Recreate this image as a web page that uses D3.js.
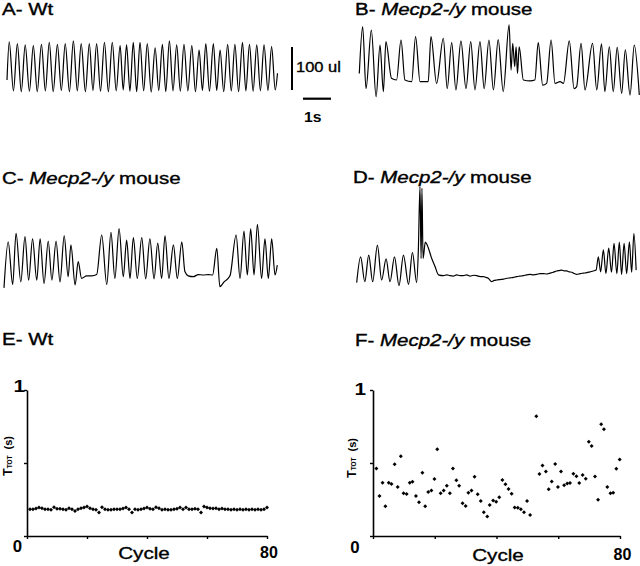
<!DOCTYPE html>
<html><head><meta charset="utf-8">
<script src="https://cdn.jsdelivr.net/npm/d3@7"></script>
<style>html,body{margin:0;padding:0;background:#fff;} svg{display:block;}</style>
</head><body><svg id="c" width="640" height="566"></svg>
<script>
// ---------- DATA ----------
// Breathing traces: [time (s), volume (ul)] vertices read from the plethysmograph records
const traceA = [[0.00,27],[0.08,116],[0.23,2],[0.37,112],[0.51,0],[0.65,109],[0.80,1],[0.94,107],[1.08,0],[1.23,110],[1.37,2],[1.51,115],[1.65,0],[1.80,110],[1.94,3],[2.08,112],[2.23,0],[2.37,118],[2.51,2],[2.65,112],[2.80,0],[2.94,112],[3.07,3],[3.20,112],[3.34,1],[3.48,115],[3.62,0],[3.76,115],[3.90,2],[4.04,107],[4.15,4],[4.27,109],[4.39,1],[4.51,115],[4.63,0],[4.75,115],[4.88,2],[5.01,112],[5.15,-1],[5.29,102],[5.42,3],[5.55,110],[5.67,0],[5.80,118],[5.93,2],[6.06,109],[6.19,1],[6.32,110],[6.46,2],[6.60,107],[6.73,0],[6.86,97],[6.98,3],[7.10,112],[7.23,1],[7.37,112],[7.49,3],[7.61,97],[7.74,0],[7.88,110],[8.01,2],[8.14,110],[8.27,0],[8.41,115],[8.53,2],[8.66,110],[8.79,1],[8.92,109],[9.05,2],[9.18,109],[9.32,3],[9.45,105],[9.58,4],[9.66,43]];
const traceB = [[0.00,19],[0.12,128],[0.24,-16],[0.43,120],[0.60,-35],[0.74,85],[0.86,-23],[0.95,93],[1.15,8],[1.33,4],[1.49,97],[1.63,4],[1.87,0],[2.01,105],[2.17,0],[2.46,0],[2.56,105],[2.76,-4],[3.00,101],[3.14,-16],[3.30,91],[3.45,-19],[3.63,95],[3.81,-16],[3.98,93],[4.13,-19],[4.31,93],[4.46,-16],[4.63,97],[4.79,-19],[4.96,98],[5.14,-23],[5.35,132],[5.42,27],[5.48,89],[5.55,35],[5.60,81],[5.65,19],[5.71,81],[5.86,4],[6.10,2],[6.27,4],[6.39,91],[6.55,-8],[6.69,-4],[6.85,97],[6.99,-4],[7.17,0],[7.29,-4],[7.50,95],[7.67,-16],[7.76,-12],[7.92,89],[8.06,-19],[8.33,89],[8.48,-19],[8.65,88],[8.77,-23],[8.93,81],[9.07,-23],[9.21,80],[9.37,-27],[9.50,74],[9.67,-31],[9.82,85],[10.00,-31]];
const traceC = [[0.00,-26],[0.15,81],[0.31,-18],[0.43,101],[0.60,-12],[0.75,93],[0.88,-8],[1.02,88],[1.17,-8],[1.29,88],[1.43,-16],[1.58,83],[1.71,-8],[1.86,83],[2.00,-12],[2.15,95],[2.29,0],[2.39,74],[2.54,-19],[2.65,35],[2.77,-4],[2.95,2],[3.13,2],[3.31,5],[3.49,97],[3.67,-18],[3.82,103],[3.96,-4],[4.11,112],[4.26,0],[4.38,85],[4.50,-4],[4.62,91],[4.76,-4],[4.92,91],[5.06,-5],[5.21,88],[5.36,-5],[5.49,78],[5.63,-4],[5.75,95],[5.89,-4],[6.05,74],[6.19,-4],[6.35,81],[6.46,12],[6.58,2],[6.76,0],[6.94,5],[7.12,4],[7.30,5],[7.45,4],[7.60,66],[7.71,-23],[7.86,-12],[8.07,2],[8.29,97],[8.43,-4],[8.57,106],[8.69,4],[8.81,111],[8.93,4],[9.05,122],[9.20,-4],[9.32,88],[9.44,-4],[9.56,88],[9.68,4],[9.76,27]];
const traceD = [[0.00,-16],[0.14,44],[0.29,-14],[0.43,48],[0.57,-14],[0.74,71],[0.89,-10],[1.05,39],[1.19,-14],[1.35,44],[1.51,-23],[1.67,48],[1.85,-20],[1.99,54],[2.14,-16],[2.20,56],[2.26,207],[2.30,40],[2.33,203],[2.37,40],[2.45,78],[2.52,71],[2.68,40],[2.80,21],[2.92,2],[3.10,0],[3.22,2],[3.33,0],[3.45,-1],[3.57,2],[3.69,0],[3.81,0],[3.93,2],[4.05,-1],[4.17,1],[4.29,0],[4.41,-2],[4.52,-2],[4.61,-4],[4.70,-6],[4.82,-14],[4.91,-11],[5.00,-10],[5.12,-9],[5.24,-8],[5.36,-6],[5.48,-5],[5.60,-4],[5.71,-2],[5.83,-1],[5.95,0],[6.07,2],[6.19,3],[6.31,2],[6.43,3],[6.55,5],[6.67,5],[6.78,4],[6.90,6],[7.02,8],[7.14,11],[7.23,12],[7.32,13],[7.41,11],[7.50,11],[7.59,9],[7.68,8],[7.77,5],[7.86,3],[7.98,5],[8.10,6],[8.22,7],[8.33,9],[8.45,11],[8.55,13],[8.63,44],[8.71,9],[8.81,60],[8.90,5],[9.00,64],[9.10,8],[9.19,75],[9.29,5],[9.38,78],[9.46,3],[9.55,75],[9.64,5],[9.74,79],[9.82,8],[9.90,98],[9.98,13]];

// TTOT (s) per respiratory cycle
const ttotWt = [0.183,0.183,0.188,0.195,0.190,0.183,0.183,0.179,0.197,0.186,0.186,0.183,0.179,0.190,0.183,0.172,0.183,0.190,0.195,0.202,0.190,0.183,0.179,0.161,0.197,0.183,0.179,0.179,0.183,0.183,0.183,0.188,0.195,0.183,0.161,0.183,0.179,0.183,0.188,0.195,0.186,0.183,0.197,0.190,0.179,0.183,0.179,0.179,0.183,0.186,0.195,0.183,0.195,0.183,0.183,0.186,0.183,0.161,0.202,0.195,0.190,0.188,0.190,0.183,0.188,0.183,0.183,0.179,0.183,0.179,0.183,0.179,0.183,0.179,0.183,0.179,0.183,0.179,0.183,0.195];
const cyclesWt = ttotWt.map((d, i) => i + 1);
const cyclesMecp2 = [1.1,2.1,3.1,4.0,5.1,6.0,7.0,8.0,9.0,9.9,10.9,11.9,12.8,13.9,14.9,16.0,16.9,17.9,18.9,19.9,20.8,21.9,22.9,23.9,24.9,25.9,27.0,27.9,29.0,30.0,30.9,31.9,32.9,33.9,34.9,35.9,37.0,37.8,38.9,39.9,40.9,41.9,42.9,43.9,44.9,45.9,46.9,47.9,48.9,49.9,50.9,52.9,53.9,54.9,56.0,56.9,57.9,59.0,59.9,60.9,61.9,62.9,63.8,64.9,65.9,66.8,67.9,68.9,69.9,70.8,71.9,72.9,73.9,74.8,75.9,76.9,77.8,78.8,79.9];
const ttotMecp2 = [0.463,0.274,0.365,0.204,0.365,0.356,0.492,0.336,0.546,0.293,0.288,0.365,0.372,0.274,0.231,0.433,0.204,0.302,0.311,0.390,0.594,0.293,0.311,0.345,0.293,0.463,0.381,0.345,0.224,0.206,0.297,0.311,0.406,0.286,0.240,0.163,0.134,0.213,0.243,0.234,0.265,0.383,0.354,0.322,0.290,0.195,0.193,0.184,0.163,0.240,0.143,0.821,0.424,0.483,0.442,0.320,0.374,0.494,0.336,0.442,0.347,0.360,0.363,0.426,0.410,0.363,0.417,0.392,0.646,0.617,0.408,0.249,0.766,0.732,0.336,0.293,0.297,0.460,0.524];

const xTickValues = [0, 20, 40, 60, 80];
const yTickValues = [0, 0.5, 1];

// ---------- DRAW ----------
const FONT = "'Liberation Sans', Arial, Helvetica, sans-serif";
const SX = 1.28; // horizontal stretch of the original lettering
const svg = d3.select('#c');
svg.append('rect').attr('width', 640).attr('height', 566).attr('fill', '#fff');

function txt(x, y, parts, opt) {
  opt = opt || {};
  const t = svg.append('text')
    .attr('transform', `translate(${x},${y}) scale(${opt.sx || SX},1)`)
    .attr('font-family', FONT)
    .attr('font-size', opt.size || 16)
    .attr('font-weight', opt.bold ? 'bold' : 'normal')
    .attr('text-anchor', opt.anchor || 'start')
    .attr('fill', '#000');
  if (!opt.bold) t.attr('stroke', '#000').attr('stroke-width', 0.35);
  parts.forEach(p => {
    const s = t.append('tspan').text(p.t);
    if (p.i) s.attr('font-style', 'italic');
  });
  return t;
}
const mecp = l => [{t: l + '- '}, {t: 'Mecp2-/y', i: true}, {t: ' mouse'}];

// Titles
txt(2, 15, [{t: 'A- Wt'}]);
txt(355, 15, mecp('B'));
txt(2, 184, mecp('C'));
txt(353, 183, mecp('D'));
txt(2, 345, [{t: 'E- Wt'}]);
txt(355, 346, mecp('F'));

// Traces
const traces = [
  {data: traceA, x0: 7, base: 91.7},
  {data: traceB, x0: 359.3, base: 81.7},
  {data: traceC, x0: 4, base: 276.7},
  {data: traceD, x0: 356.7, base: 275.7}
];
const PX_PER_S = 28, PX_PER_UL = 0.43;
traces.forEach(tr => {
  tr.x = d3.scaleLinear().domain([0, 10]).range([tr.x0, tr.x0 + 10 * PX_PER_S]);
  tr.y = d3.scaleLinear().domain([0, 100]).range([tr.base, tr.base - 100 * PX_PER_UL]);
  const line = d3.line().x(d => tr.x(d[0])).y(d => tr.y(d[1])).curve(d3.curveMonotoneX);
  svg.append('path').attr('d', line(tr.data))
    .attr('fill', 'none').attr('stroke', '#000').attr('stroke-width', 1.2)
    .attr('stroke-linejoin', 'round');
});

// Scale bars (100 ul, 1 s) from trace A scales
const tA = traces[0];
const vLen = tA.y(0) - tA.y(100);
const hLen = tA.x(1) - tA.x(0);
svg.append('line').attr('x1', 292).attr('x2', 292).attr('y1', 47).attr('y2', 47 + vLen)
  .attr('stroke', '#000').attr('stroke-width', 2);
txt(296, 72, [{t: '100 ul'}], {size: 15, sx: 1.1});
svg.append('line').attr('x1', 303).attr('x2', 303 + hLen).attr('y1', 98.7).attr('y2', 98.7)
  .attr('stroke', '#000').attr('stroke-width', 2.2);
txt(304, 122, [{t: '1s'}], {size: 15, bold: true, sx: 1.05});

// Scatter panels
const panels = [
  {cx: cyclesWt, vy: ttotWt, x0: 27, x1: 267, one: [25, 392], zero: [17.5, 552], eighty: [269, 558], cycle: [144, 559], ylab: [12, 476]},
  {cx: cyclesMecp2, vy: ttotMecp2, x0: 373, x1: 620, one: [366, 395], zero: [355, 553], eighty: [622.5, 560], cycle: [498, 561], ylab: [356, 478]}
];
panels.forEach(p => {
  const x = d3.scaleLinear().domain([0, 80]).range([p.x0, p.x1]);
  const y = d3.scaleLinear().domain([0, 1]).range([536, 390]);
  const gy = svg.append('g').attr('transform', `translate(${p.x0},0)`)
    .call(d3.axisLeft(y).tickValues(yTickValues).tickSize(3).tickSizeOuter(0).tickFormat(''));
  const gx = svg.append('g').attr('transform', `translate(0,536)`)
    .call(d3.axisBottom(x).tickValues(xTickValues).tickSize(3).tickSizeOuter(0).tickFormat(''));
  [gy, gx].forEach(g => {
    g.select('.domain').attr('stroke', '#000').attr('stroke-width', 1.6);
    g.selectAll('.tick line').attr('stroke', '#000').attr('stroke-width', 1.4);
  });
  svg.append('g').selectAll('path').data(p.vy).join('path')
    .attr('d', d3.symbol(d3.symbolSquare, 8)())
    .attr('transform', (d, i) => `translate(${x(p.cx[i])},${y(d)}) rotate(45)`)
    .attr('fill', '#000');
  txt(p.one[0], p.one[1], [{t: '1'}], {bold: true, size: 16, anchor: 'end', sx: 1.3});
  txt(p.zero[0], p.zero[1], [{t: '0'}], {bold: true, size: 16, anchor: 'middle', sx: 1.05});
  txt(p.eighty[0], p.eighty[1], [{t: '80'}], {bold: true, size: 16, anchor: 'middle', sx: 1.0});
  txt(p.cycle[0], p.cycle[1], [{t: 'Cycle'}], {size: 16.5, anchor: 'middle', sx: 1.25});
  // T_TOT (s) rotated label
  const t = svg.append('text')
    .attr('transform', `translate(${p.ylab[0]},${p.ylab[1]}) rotate(-90)`)
    .attr('font-family', FONT).attr('font-weight', 'bold').attr('fill', '#000');
  t.append('tspan').attr('font-size', 12.5).text('T');
  t.append('tspan').attr('font-size', 6.5).text('TOT');
  t.append('tspan').attr('font-size', 11).attr('dx', 6).text('(s)');
});
</script></body></html>
